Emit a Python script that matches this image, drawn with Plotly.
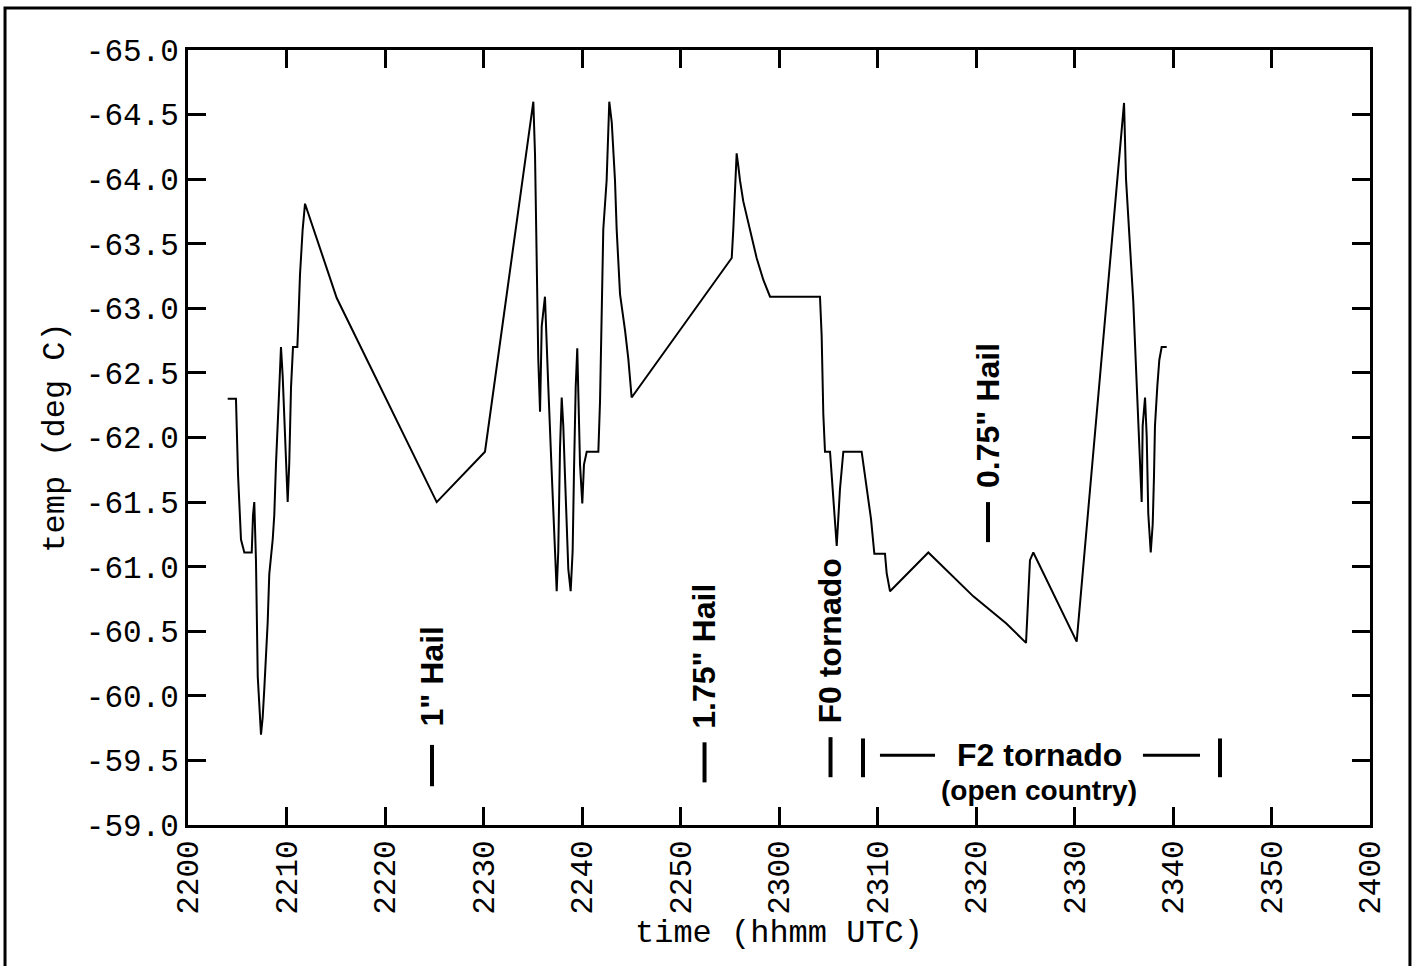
import plotly.graph_objects as go

# ---- data: minutes after 2200 UTC and cloud-top temperature (deg C) ----
time_min = [4.03, 4.87, 5.08, 5.38, 5.72, 6.47, 6.60, 6.73, 6.90, 7.08, 7.41, 7.58,
            7.75, 7.92, 8.09, 8.25, 8.60, 8.76, 8.93, 9.27, 9.44, 9.61, 9.78, 9.95,
            10.12, 10.28, 10.46, 10.66, 11.10, 11.20, 11.37, 11.64, 11.88, 15.10,
            25.25, 30.15, 35.06, 35.23, 35.40, 35.56, 35.74, 35.91, 36.24, 36.41,
            36.58, 36.92, 37.26, 37.43, 37.59, 37.77, 37.94, 38.10, 38.27, 38.44,
            38.61, 38.85, 39.05, 39.19, 39.36, 39.52, 39.62, 39.80, 40.03, 40.20,
            40.48, 41.66, 41.83, 42.00, 42.16, 42.50, 42.77, 43.02, 43.35, 43.52,
            43.86, 44.37, 44.70, 45.04, 55.20, 55.36, 55.70, 55.87, 56.04, 56.37,
            57.06, 57.73, 58.41, 59.09, 64.16, 64.33, 64.50, 64.67, 65.18, 65.52,
            65.86, 66.19, 66.53, 68.39, 69.00, 69.34, 69.68, 70.76, 70.93, 71.27,
            75.16, 79.73, 83.08, 85.08, 85.48, 85.82, 90.22, 95.03, 95.23, 95.56,
            95.97, 96.24, 96.48, 96.65, 96.82, 96.92, 97.16, 97.33, 97.49, 97.74,
            97.94, 98.07, 98.17, 98.41, 98.61, 98.85, 99.36]
temp_c = [-62.30, -62.30, -61.71, -61.21, -61.11, -61.11, -61.40, -61.50, -61.05, -60.15,
          -59.70, -59.83, -60.06, -60.29, -60.57, -60.94, -61.21, -61.40, -61.79, -62.39,
          -62.70, -62.48, -62.10, -61.71, -61.50, -61.80, -62.39, -62.70, -62.70, -62.89,
          -63.26, -63.61, -63.81, -63.08, -61.50, -61.89, -64.60, -64.19, -63.39, -62.61,
          -62.20, -62.86, -63.09, -62.80, -62.39, -61.74, -61.17, -60.81, -61.12, -61.92,
          -62.31, -62.09, -61.71, -61.34, -60.98, -60.81, -61.12, -61.75, -62.39, -62.69,
          -62.39, -61.79, -61.49, -61.79, -61.89, -61.89, -62.28, -63.03, -63.61, -63.99,
          -64.60, -64.44, -63.99, -63.61, -63.11, -62.83, -62.61, -62.31, -63.39, -63.61,
          -64.20, -64.10, -63.99, -63.83, -63.61, -63.39, -63.22, -63.09, -63.09, -62.79,
          -62.18, -61.89, -61.89, -61.55, -61.16, -61.60, -61.89, -61.89, -61.56, -61.37,
          -61.10, -61.10, -60.95, -60.81, -61.11, -60.77, -60.56, -60.41, -61.05, -61.11,
          -60.42, -64.59, -64.00, -63.55, -63.05, -62.55, -62.10, -61.72, -61.50, -62.09,
          -62.31, -62.01, -61.41, -61.11, -61.33, -61.70, -62.09, -62.40, -62.60, -62.70,
          -62.70]

x_tick_vals = [0, 10, 20, 30, 40, 50, 60, 70, 80, 90, 100, 110, 120]
x_tick_text = ["2200", "2210", "2220", "2230", "2240", "2250", "2300",
               "2310", "2320", "2330", "2340", "2350", "2400"]
y_tick_vals = [-65.0, -64.5, -64.0, -63.5, -63.0, -62.5, -62.0, -61.5,
               -61.0, -60.5, -60.0, -59.5, -59.0]

# storm reports (vertical labels with a marker bar below)
event_labels = ['1" Hail', '1.75" Hail', 'F0 tornado', '0.75" Hail']
event_time = [24.77, 52.44, 65.23, 81.22]
event_bar_top = [-59.62, -59.64, -59.68, -61.50]
event_bar_bottom = [-59.30, -59.33, -59.37, -61.19]
event_text_base = [-59.75, -59.73, -59.77, -61.59]

# F2 tornado track
f2_start, f2_end = 68.53, 104.77
f2_bar_top, f2_bar_bottom = -59.67, -59.37
f2_dash_left = (70.25, 75.84)
f2_dash_right = (96.95, 102.74)
f2_dash_y = -59.54
f2_text_x, f2_text_y = 86.4, -59.54
f2_sub_y = -59.27

tick_font = dict(family="Liberation Mono", size=31, color="black")
label_font = dict(family="Liberation Sans", size=32, color="black", weight="bold")

fig = go.Figure()
fig.add_trace(go.Scatter(x=time_min, y=temp_c, mode="lines",
                         line=dict(color="black", width=2), showlegend=False,
                         hoverinfo="skip"))

shapes = []
annotations = []
for lab, t, b0, b1, tb in zip(event_labels, event_time, event_bar_top,
                              event_bar_bottom, event_text_base):
    shapes.append(dict(type="line", xref="x", yref="y", x0=t, x1=t, y0=b0, y1=b1,
                       line=dict(color="black", width=4)))
    annotations.append(dict(x=t, y=tb, xref="x", yref="y", text=lab, textangle=-90,
                            showarrow=False, xanchor="center", yanchor="bottom",
                            font=label_font))
for t in (f2_start, f2_end):
    shapes.append(dict(type="line", xref="x", yref="y", x0=t, x1=t,
                       y0=f2_bar_top, y1=f2_bar_bottom,
                       line=dict(color="black", width=4)))
for d in (f2_dash_left, f2_dash_right):
    shapes.append(dict(type="line", xref="x", yref="y", x0=d[0], x1=d[1],
                       y0=f2_dash_y, y1=f2_dash_y, line=dict(color="black", width=3)))
annotations.append(dict(x=f2_text_x, y=f2_text_y, xref="x", yref="y",
                        text="F2 tornado", showarrow=False, font=label_font,
                        xanchor="center", yanchor="middle"))
annotations.append(dict(x=f2_text_x, y=f2_sub_y, xref="x", yref="y",
                        text="(open country)", showarrow=False,
                        font=dict(family="Liberation Sans", size=28, color="black",
                                  weight="bold"),
                        xanchor="center", yanchor="middle"))

# outer frame of the figure
shapes.append(dict(type="rect", xref="paper", yref="paper",
                   x0=-0.1548, x1=1.0338, y0=-0.25, y1=1.0542,
                   line=dict(color="black", width=3), fillcolor="rgba(0,0,0,0)",
                   layer="below"))

fig.update_layout(
    width=1418, height=966,
    margin=dict(l=188, r=48, t=50, b=141),
    paper_bgcolor="white", plot_bgcolor="white",
    shapes=shapes, annotations=annotations,
    xaxis=dict(range=[0, 120], tickmode="array", tickvals=x_tick_vals,
               ticktext=x_tick_text, tickangle=-90, ticks="inside", ticklen=18,
               tickwidth=3, tickcolor="black", showline=True, linewidth=3,
               linecolor="black", mirror="ticks", showgrid=False, zeroline=False,
               tickfont=tick_font,
               title=dict(text="time (hhmm UTC)", font=dict(family="Liberation Mono",
                                                            size=32, color="black"),
                          standoff=4)),
    yaxis=dict(range=[-59, -65], tickmode="array", tickvals=y_tick_vals,
               ticktext=[f"{v:.1f}" for v in y_tick_vals], ticks="inside",
               ticklen=18, tickwidth=3, tickcolor="black", showline=True,
               linewidth=3, linecolor="black", mirror="ticks", showgrid=False,
               zeroline=False, tickfont=tick_font,
               title=dict(text="temp (deg C)", font=dict(family="Liberation Mono",
                                                         size=32, color="black"),
                          standoff=12)),
)

fig.write_html("out.html", config={"displayModeBar": False},
               post_script="document.body.style.margin='0px';")
